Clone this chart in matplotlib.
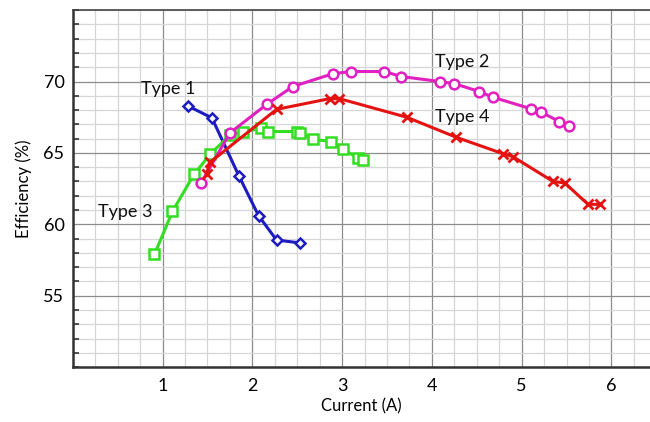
import numpy as np
import matplotlib
matplotlib.use("Agg")
import matplotlib.pyplot as plt
from matplotlib.ticker import MultipleLocator

plt.rcParams["font.family"] = ["Lato", "DejaVu Sans"]

# ---------------------------------------------------------------- data
type1_x = [1.28, 1.55, 1.85, 2.07, 2.27, 2.53]
type1_y = [68.3, 67.45, 63.4, 60.6, 58.9, 58.7]

type2_x = [1.43, 1.75, 2.16, 2.45, 2.90, 3.10, 3.47, 3.66, 4.09, 4.25,
           4.53, 4.68, 5.10, 5.22, 5.42, 5.53]
type2_y = [62.9, 66.4, 68.4, 69.65, 70.55, 70.7, 70.7, 70.35, 70.0, 69.85,
           69.3, 68.9, 68.1, 67.85, 67.2, 66.9]

type3_x = [0.91, 1.11, 1.35, 1.53, 1.75, 1.90, 2.10, 2.18, 2.50, 2.53,
           2.68, 2.88, 3.01, 3.18, 3.23]
type3_y = [57.9, 60.9, 63.5, 64.9, 66.25, 66.45, 66.75, 66.5, 66.5, 66.4,
           65.95, 65.8, 65.25, 64.65, 64.5]

type4_x = [1.49, 1.53, 2.27, 2.86, 2.97, 3.72, 4.27, 4.79, 4.90, 5.35,
           5.48, 5.74, 5.87]
type4_y = [63.55, 64.35, 68.05, 68.8, 68.8, 67.5, 66.1, 64.95, 64.75, 63.0,
           62.9, 61.4, 61.4]

labels = ["Type 1", "Type 2", "Type 3", "Type 4"]
label_pos = [(0.76, 69.45), (4.03, 71.35), (0.28, 60.85), (4.03, 67.5)]

# ---------------------------------------------------------------- figure
fig = plt.figure(figsize=(6.5, 4.22), dpi=100)
ax = fig.add_axes([0.112, 0.130, 0.888, 0.846])
ax.set_xlim(0, 6.43)
ax.set_ylim(50, 75)

ax.xaxis.set_major_locator(MultipleLocator(1))
ax.xaxis.set_minor_locator(MultipleLocator(0.25))
ax.yaxis.set_major_locator(MultipleLocator(5))
ax.yaxis.set_minor_locator(MultipleLocator(1))
ax.set_xticks([1, 2, 3, 4, 5, 6])
ax.set_yticks([55, 60, 65, 70])

ax.grid(which="major", color="#8c8c8c", linewidth=0.9)
ax.grid(which="minor", color="#d6d6d6", linewidth=0.9)
ax.set_axisbelow(True)

ax.tick_params(axis="x", which="both", length=0, labelsize=13, pad=8)
ax.tick_params(axis="y", which="major", length=0, labelsize=13, pad=6)
ax.tick_params(axis="y", which="minor", direction="in", length=4,
               width=1.2, color="#333333")

for s in ["left", "bottom"]:
    ax.spines[s].set_linewidth(1.8)
    ax.spines[s].set_color("#333333")
ax.spines["top"].set_linewidth(1.2)
ax.spines["top"].set_color("#444444")
ax.spines["right"].set_visible(False)

ms = 6.5
lw = 2.2
ax.plot(type1_x, type1_y, color="#1c1cc0", lw=lw, marker="D", ms=5,
        mfc="white", mec="#1c1cc0", mew=1.8, zorder=3)
ax.plot(type3_x, type3_y, color="#33dd22", lw=lw, marker="s", ms=ms,
        mfc="white", mec="#33dd22", mew=1.8, zorder=3)
ax.plot(type2_x, type2_y, color="#e020c0", lw=lw, marker="o", ms=ms + 0.5,
        mfc="white", mec="#e020c0", mew=1.8, zorder=4)
ax.plot(type4_x, type4_y, color="#e51212", lw=lw, marker="x", ms=ms,
        mec="#e51212", mew=2.0, zorder=5)

for lab, (lx, ly) in zip(labels, label_pos):
    ax.text(lx, ly, lab, fontsize=13, ha="left", va="center", color="#111111")

ax.set_xlabel("Current (A)", fontsize=12, labelpad=3)
ax.set_ylabel("Efficiency (%)", fontsize=12, labelpad=8)

fig.savefig("out.png", dpi=100)
